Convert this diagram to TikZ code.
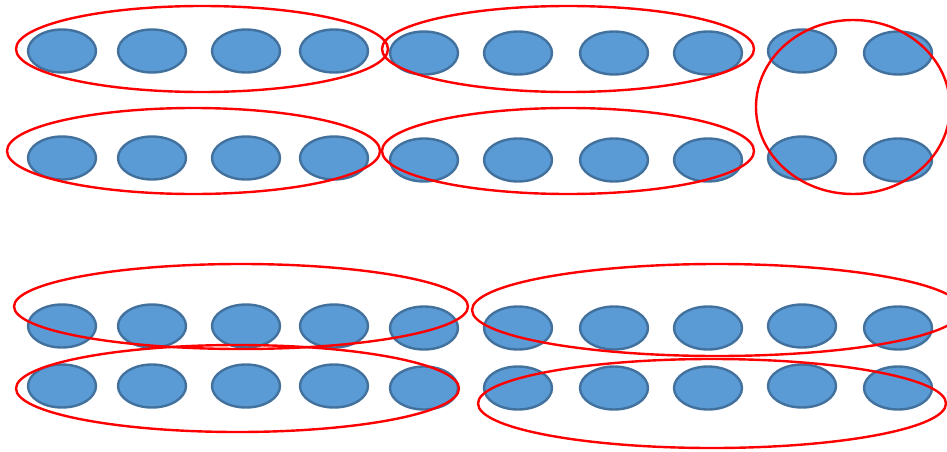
\documentclass[tikz,border=0pt]{standalone}
\usetikzlibrary{shapes.geometric}
\usepackage{xcolor}

\definecolor{cellfill}{HTML}{5B9BD5}
\definecolor{celldraw}{HTML}{41719C}

\begin{document}
\begin{tikzpicture}[x=1pt, y=-1pt]
        % ================= styles =================
        \tikzset{
            % small blue cells
            cell/.style={ellipse, draw=celldraw, line width=2.4pt, fill=cellfill, minimum width=68pt, minimum height=43pt, inner sep=0pt},
            % red group outlines
            group/.style={ellipse, draw=red, line width=2.4pt, inner sep=0pt}
        }

        % fixed frame (same size as the reference)
        \useasboundingbox (0,0) rectangle (947,452);

        % ================= cells: 4 rows x 10 columns =================
        % row name / row y ; column x / small vertical offset
        \foreach \r/\y in {a/51, b/158, c/326, d/386} {
            \foreach \x/\d [count=\i] in {62/0,152/0,246/0,334/0,424/2,518/2,614/2,708/2,802/0,898/2} {
                \node[cell] (\r\i) at (\x,\y+\d) {};
            }
        }

        % ================= groups (drawn on top) =================
        % 1. top block
        \node[group, minimum width=372pt, minimum height=86pt]  (g1) at (202,49)    {};
        \node[group, minimum width=372pt, minimum height=86pt]  (g2) at (568,49)    {};
        \node[group, minimum width=194pt, minimum height=174pt] (g3) at (853,107)   {};
        \node[group, minimum width=373pt, minimum height=86pt]  (g4) at (193.5,151) {};
        \node[group, minimum width=372pt, minimum height=86pt]  (g5) at (568,151)   {};

        % 2. bottom block
        \node[group, minimum width=454pt, minimum height=85pt]  (g6) at (241,306.5)   {};
        \node[group, minimum width=443pt, minimum height=87pt]  (g7) at (237.5,388.5) {};
        \node[group, minimum width=490pt, minimum height=92pt]  (g8) at (717,310)     {};
        \node[group, minimum width=468pt, minimum height=89pt]  (g9) at (712,403.5)   {};

    \end{tikzpicture}
\end{document}
